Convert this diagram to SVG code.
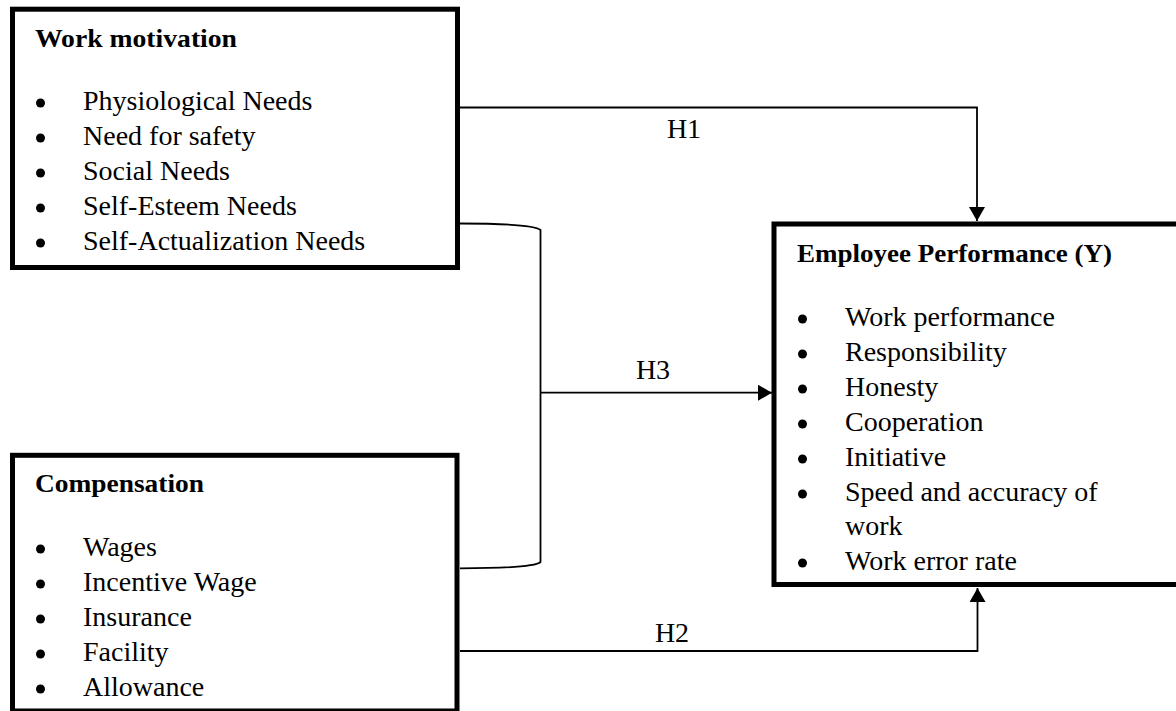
<svg xmlns="http://www.w3.org/2000/svg" width="1176" height="711" viewBox="0 0 1176 711">
  <style>
    .box { fill: #ffffff; stroke: #000000; stroke-width: 5; }
    .title { font-family: "Liberation Serif", "Times New Roman", serif; font-weight: bold; font-size: 26px; fill: #000000; }
    .item { font-family: "Liberation Serif", "Times New Roman", serif; font-size: 28px; fill: #000000; }
    .dot { fill: #000000; }
    .lbl { font-family: "Liberation Serif", "Times New Roman", serif; font-size: 28px; fill: #000000; text-anchor: middle; }
    .wire { fill: none; stroke: #000000; stroke-width: 1.8; }
  </style>
  <defs>
    <marker id="arrow" viewBox="0 0 14 16" refX="14" refY="8" markerWidth="14" markerHeight="16" markerUnits="userSpaceOnUse" orient="auto">
      <path d="M0,0 L14,8 L0,16 Z" fill="#000000"/>
    </marker>
  </defs>

  <rect width="1176" height="711" fill="#ffffff"/>

  <!-- connectors -->
  <g id="connectors">
    <path class="wire" d="M460,107.5 H977 V221" marker-end="url(#arrow)"/>
    <path class="wire" d="M460,223.5 C505,223.5 535,225 540.5,230 V562 C535,567 505,568.3 460,568.3"/>
    <path class="wire" d="M540.5,392.7 H772" marker-end="url(#arrow)"/>
    <path class="wire" d="M460,651 H977.5 V588" marker-end="url(#arrow)"/>
    <text class="lbl" x="684" y="138">H1</text>
    <text class="lbl" x="653" y="379">H3</text>
    <text class="lbl" x="672" y="642">H2</text>
  </g>

  <!-- work motivation -->
  <g id="work-motivation">
    <rect class="box" x="12.5" y="9.2" width="445" height="258.3"/>
    <text class="title" x="35" y="47" textLength="202" lengthAdjust="spacingAndGlyphs">Work motivation</text>
    <circle class="dot" cx="40.5" cy="103" r="4.5"/><text class="item" x="83" y="110">Physiological Needs</text>
    <circle class="dot" cx="40.5" cy="138" r="4.5"/><text class="item" x="83" y="145">Need for safety</text>
    <circle class="dot" cx="40.5" cy="173" r="4.5"/><text class="item" x="83" y="180">Social Needs</text>
    <circle class="dot" cx="40.5" cy="208" r="4.5"/><text class="item" x="83" y="215">Self-Esteem Needs</text>
    <circle class="dot" cx="40.5" cy="243" r="4.5"/><text class="item" x="83" y="250">Self-Actualization Needs</text>
  </g>

  <!-- compensation -->
  <g id="compensation">
    <rect class="box" x="12.5" y="455.3" width="444.5" height="255.7"/>
    <text class="title" x="35" y="492" textLength="169" lengthAdjust="spacingAndGlyphs">Compensation</text>
    <circle class="dot" cx="40.5" cy="549" r="4.5"/><text class="item" x="83" y="556">Wages</text>
    <circle class="dot" cx="40.5" cy="584" r="4.5"/><text class="item" x="83" y="591">Incentive Wage</text>
    <circle class="dot" cx="40.5" cy="619" r="4.5"/><text class="item" x="83" y="626">Insurance</text>
    <circle class="dot" cx="40.5" cy="654" r="4.5"/><text class="item" x="83" y="661">Facility</text>
    <circle class="dot" cx="40.5" cy="689" r="4.5"/><text class="item" x="83" y="696">Allowance</text>
  </g>

  <!-- employee performance -->
  <g id="employee-performance">
    <rect class="box" x="774" y="224" width="410" height="360.5"/>
    <text class="title" x="797" y="262" textLength="315" lengthAdjust="spacingAndGlyphs">Employee Performance (Y)</text>
    <circle class="dot" cx="802.5" cy="319" r="4.5"/><text class="item" x="845" y="326">Work performance</text>
    <circle class="dot" cx="802.5" cy="354" r="4.5"/><text class="item" x="845" y="361">Responsibility</text>
    <circle class="dot" cx="802.5" cy="389" r="4.5"/><text class="item" x="845" y="396">Honesty</text>
    <circle class="dot" cx="802.5" cy="424" r="4.5"/><text class="item" x="845" y="431">Cooperation</text>
    <circle class="dot" cx="802.5" cy="459" r="4.5"/><text class="item" x="845" y="466">Initiative</text>
    <circle class="dot" cx="802.5" cy="494" r="4.5"/><text class="item" x="845" y="501">Speed and accuracy of</text>
    <text class="item" x="845" y="535">work</text>
    <circle class="dot" cx="802.5" cy="563" r="4.5"/><text class="item" x="845" y="570">Work error rate</text>
  </g>
</svg>
